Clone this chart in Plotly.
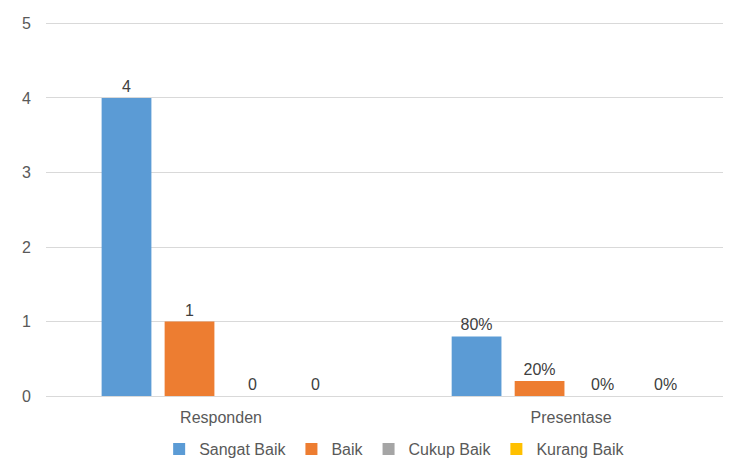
import plotly.graph_objects as go

categories = ["Responden", "Presentase"]
series_names = ["Sangat Baik", "Baik", "Cukup Baik", "Kurang Baik"]
sangat_baik = [4, 0.8]
baik = [1, 0.2]
cukup_baik = [0, 0]
kurang_baik = [0, 0]
labels = [["4", "80%"], ["1", "20%"], ["0", "0%"], ["0", "0%"]]
y_ticks = [0, 1, 2, 3, 4, 5]

colors = ["#5b9bd5", "#ed7d31", "#a5a5a5", "#ffc000"]
font_family = "Liberation Sans, Arial, sans-serif"

fig = go.Figure()
for name, vals, txt, col in zip(series_names, [sangat_baik, baik, cukup_baik, kurang_baik], labels, colors):
    fig.add_trace(go.Bar(
        x=categories, y=vals, name=name, text=txt,
        textposition="outside", cliponaxis=False,
        textfont=dict(color="#404040", size=16, family=font_family),
        marker=dict(color=col, line=dict(width=0)),
    ))

# page body has an 8px margin on every side -> keep the figure inside the window
fig.update_layout(
    width=715, height=458,
    margin=dict(l=38, r=0, t=14, b=70),
    paper_bgcolor="white",
    plot_bgcolor="white",
    barmode="group",
    bargap=0.28, bargroupgap=0.21,
    font=dict(family=font_family, color="#595959", size=16),
    xaxis=dict(range=[-0.5, 1.434], showgrid=False, showline=False, ticks="",
               ticklabelstandoff=10, tickfont=dict(size=16, color="#595959")),
    yaxis=dict(range=[0, 5.02], tickvals=y_ticks, showgrid=True, gridcolor="#d9d9d9",
               gridwidth=1, zeroline=True, zerolinecolor="#d9d9d9", zerolinewidth=1,
               ticks="", ticklabelstandoff=14, tickfont=dict(size=16, color="#595959")),
    legend=dict(orientation="h", x=0.515, xanchor="center",
                yref="container", y=-0.017, yanchor="bottom",
                font=dict(size=16, color="#595959"), itemwidth=30,
                bgcolor="rgba(0,0,0,0)", traceorder="normal"),
    showlegend=True,
)

fig.write_html("out.html")
